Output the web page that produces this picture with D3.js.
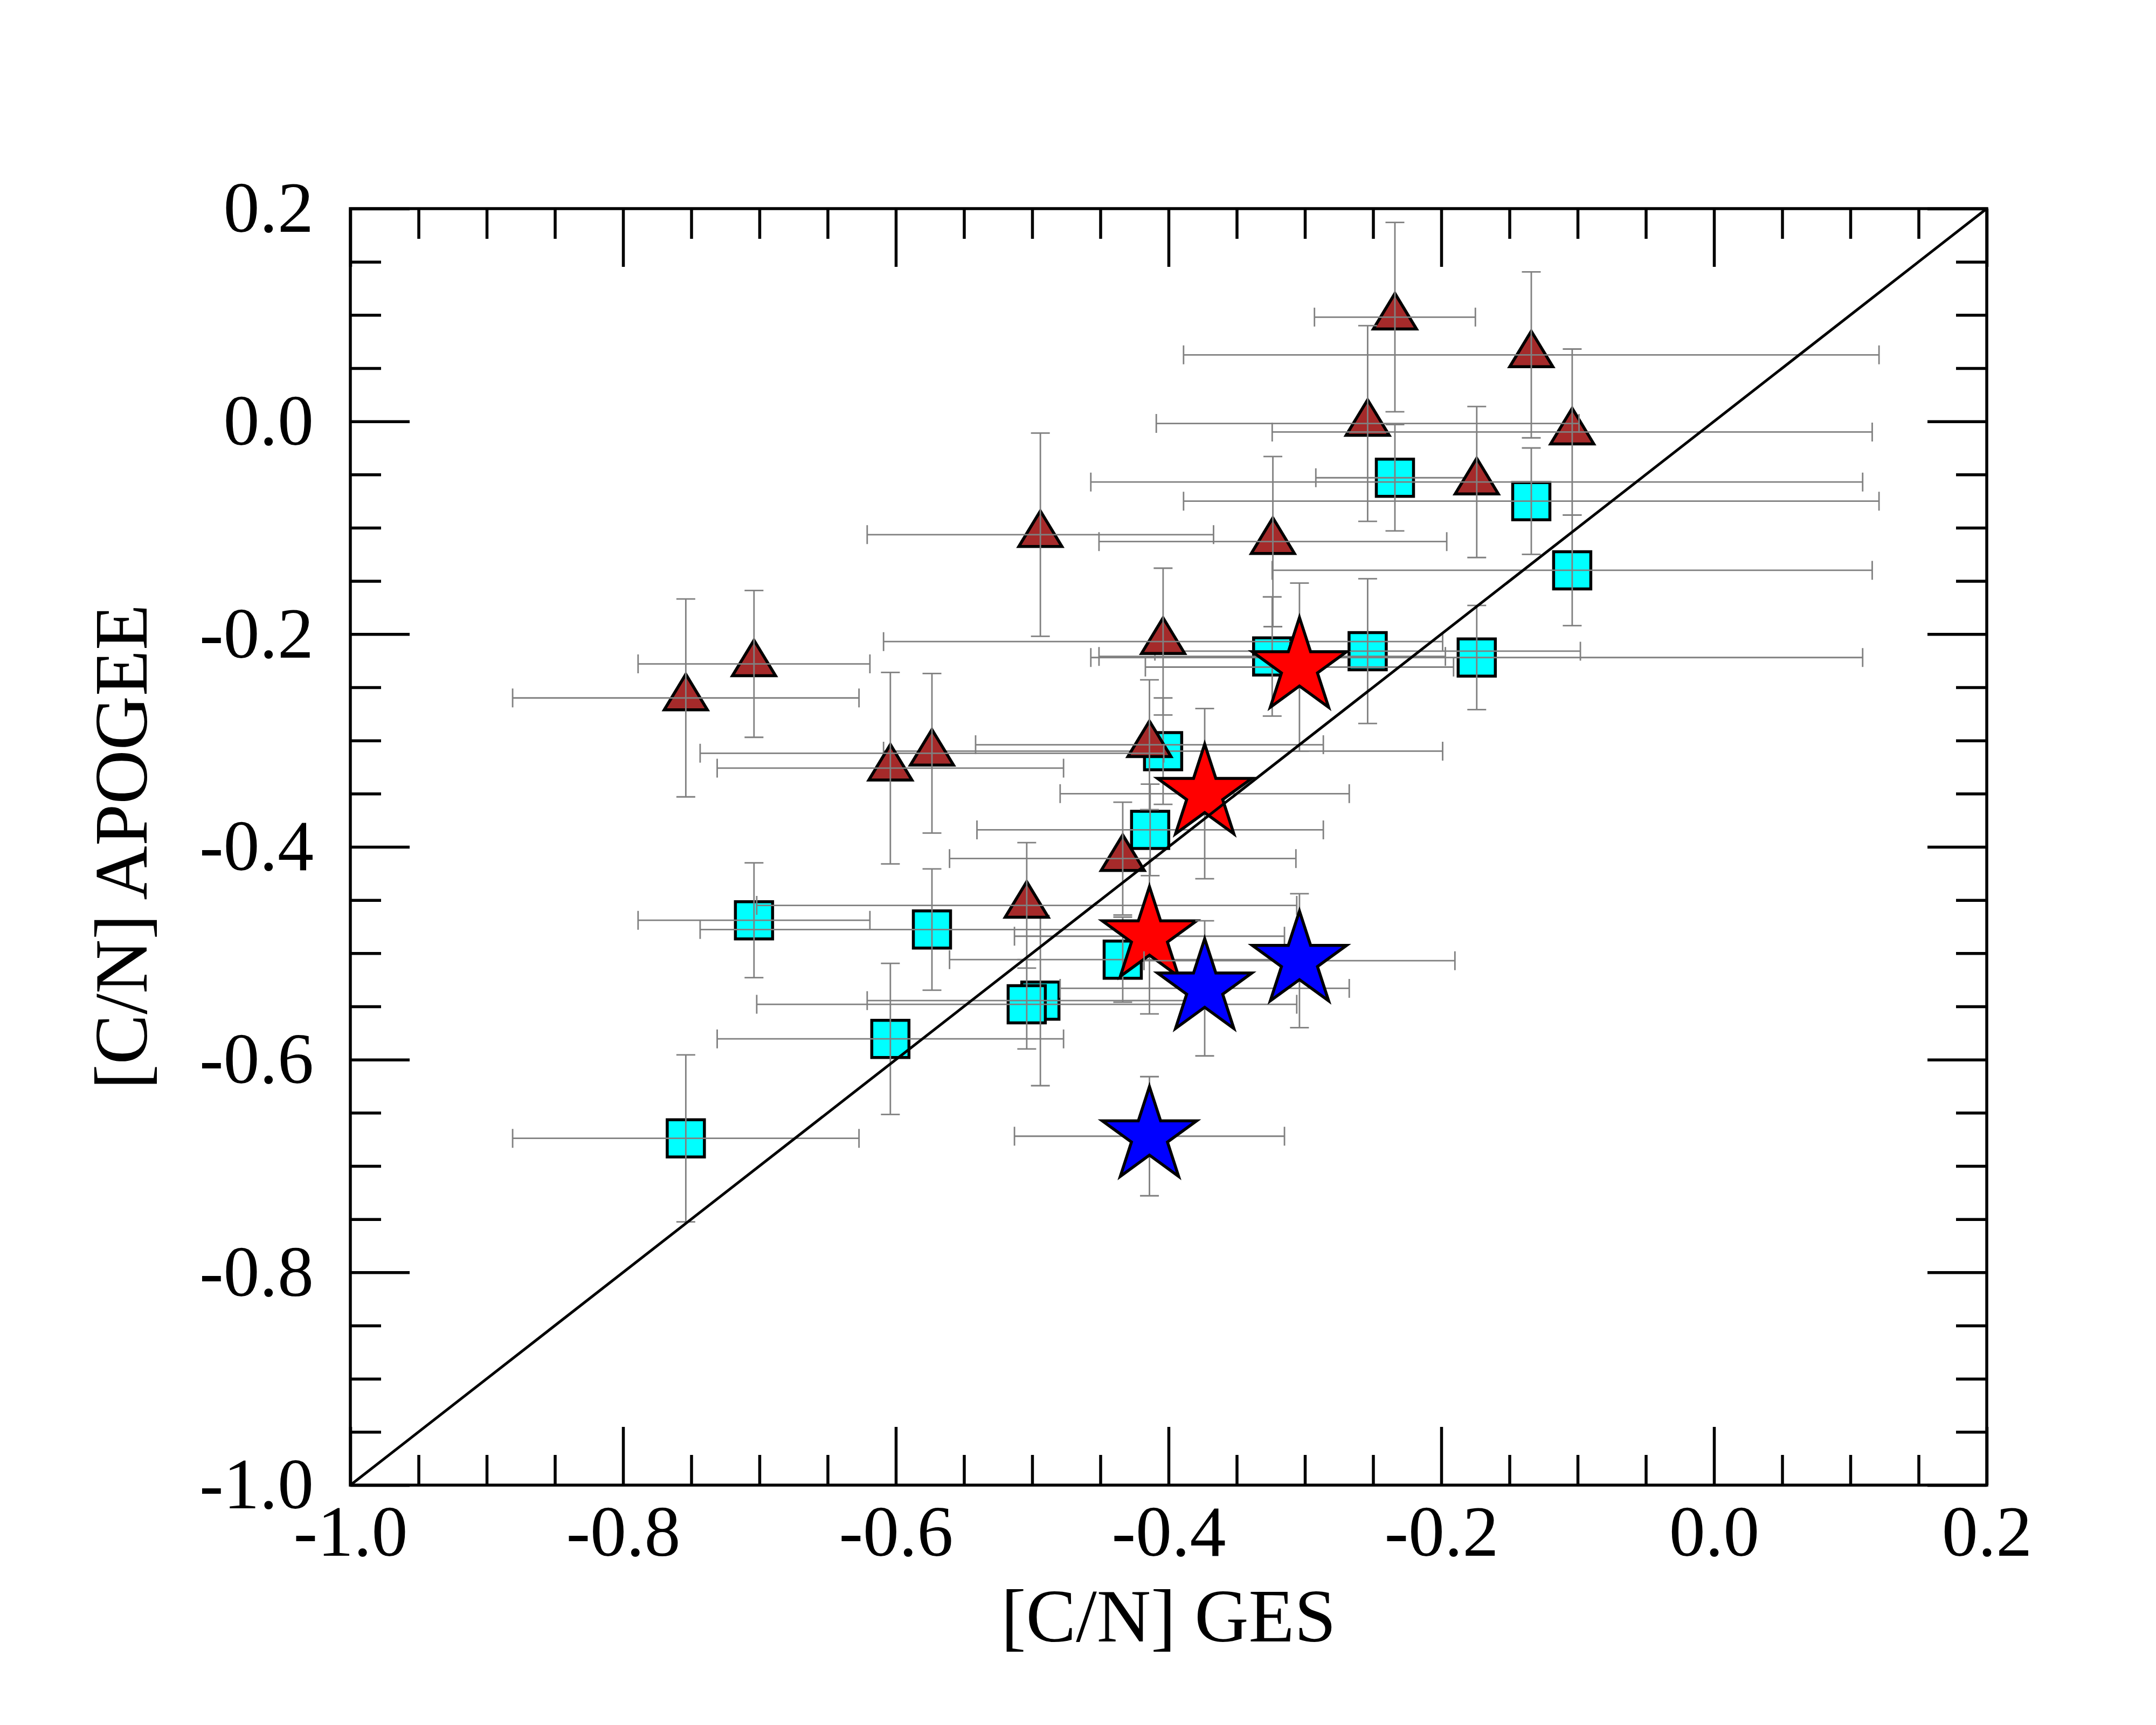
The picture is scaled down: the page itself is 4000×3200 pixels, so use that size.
<!DOCTYPE html>
<html>
<head>
<meta charset="utf-8">
<script src="https://cdn.jsdelivr.net/npm/d3@7"></script>
<style>
  body { margin: 0; background: #fff; }
</style>
</head>
<body>
<script>
// tick values and labels
var xTickValues = [-1.0, -0.8, -0.6, -0.4, -0.2, 0.0, 0.2];
var xTickLabels = ["-1.0", "-0.8", "-0.6", "-0.4", "-0.2", "0.0", "0.2"];
var yTickValues = [-1.0, -0.8, -0.6, -0.4, -0.2, 0.0, 0.2];
var yTickLabels = ["-1.0", "-0.8", "-0.6", "-0.4", "-0.2", "0.0", "0.2"];

// brown triangles
var triGes       = [-0.234, -0.134, -0.254, -0.104, -0.174, -0.494, -0.3235, -0.404, -0.754, -0.704, -0.414, -0.604, -0.5735, -0.4336, -0.504];
var triApogee    = [0.098, 0.0625, -0.002, -0.010, -0.057, -0.1065, -0.113, -0.207, -0.260, -0.228, -0.304, -0.326, -0.312, -0.411, -0.455];
var triGesErr    = [0.059, 0.255, 0.155, 0.22, 0.283, 0.127, 0.1275, 0.205, 0.127, 0.085, 0.1275, 0.127, 0.17, 0.127, 0.198];
var triApogeeErr = [0.089, 0.078, 0.092, 0.078, 0.071, 0.0955, 0.08, 0.069, 0.093, 0.069, 0.061, 0.09, 0.075, 0.053, 0.059];

// cyan squares
var sqGes       = [-0.234, -0.134, -0.104, -0.324, -0.254, -0.174, -0.404, -0.4135, -0.704, -0.5735, -0.4336, -0.494, -0.504, -0.604, -0.754];
var sqApogee    = [-0.053, -0.075, -0.140, -0.221, -0.216, -0.222, -0.310, -0.384, -0.469, -0.4777, -0.506, -0.5445, -0.548, -0.5805, -0.674];
var sqGesErr    = [0.058, 0.255, 0.22, 0.127, 0.156, 0.283, 0.205, 0.127, 0.085, 0.17, 0.127, 0.127, 0.198, 0.127, 0.127];
var sqApogeeErr = [0.05, 0.05, 0.052, 0.056, 0.068, 0.049, 0.05, 0.043, 0.054, 0.057, 0.04, 0.08, 0.042, 0.071, 0.0785];

// red stars
var redGes       = [-0.304, -0.3735, -0.414];
var redApogee    = [-0.231, -0.350, -0.484];
var redGesErr    = [0.113, 0.106, 0.099];
var redApogeeErr = [0.079, 0.08, 0.073];

// blue stars
var blueGes       = [-0.304, -0.3735, -0.414];
var blueApogee    = [-0.507, -0.533, -0.672];
var blueGesErr    = [0.114, 0.106, 0.099];
var blueApogeeErr = [0.063, 0.0635, 0.056];

var WIDTH = 4000, HEIGHT = 3200;
var LEFT = 650, RIGHT = 3686, TOP = 387, BOTTOM = 2755;
var FONT = "'Liberation Serif', 'Times New Roman', serif";

var translate = function (x, y) {
  return "translate(" + x + "," + y + ")";
};

var xScale = d3.scaleLinear().domain([-1.0, 0.2]).range([LEFT, RIGHT]);
var yScale = d3.scaleLinear().domain([-1.0, 0.2]).range([BOTTOM, TOP]);

var minorTicks = d3.range(-1.0, 0.2001, 0.05).filter(function (v) {
  return Math.abs(v * 5 - Math.round(v * 5)) > 1e-6;
});

var svg = d3.select("body").append("svg")
  .attr("width", WIDTH)
  .attr("height", HEIGHT);

svg.append("rect").attr("width", WIDTH).attr("height", HEIGHT).attr("fill", "#fff");

// marker shapes
var trianglePath = function () {
  return "M0,-44L40,22L-40,22Z";
};
var squarePath = function () {
  return "M-34.5,-34.5H34.5V34.5H-34.5Z";
};
var starPath = function () {
  var R = 92, r = R * 0.382, pts = [];
  for (var k = 0; k < 10; k++) {
    var a = -Math.PI / 2 + k * Math.PI / 5;
    var rad = k % 2 === 0 ? R : r;
    pts.push([rad * Math.cos(a), rad * Math.sin(a)]);
  }
  return "M" + pts.map(function (p) { return p[0].toFixed(2) + "," + p[1].toFixed(2); }).join("L") + "Z";
};

var rows = function (xs, ys, xe, ye) {
  return xs.map(function (v, i) { return {x: v, y: ys[i], xe: xe[i], ye: ye[i]}; });
};

var CAP = 17.5;
var drawErrors = function (g, data) {
  var eg = g.append("g")
    .attr("stroke", "#808080")
    .attr("stroke-width", 2.8)
    .attr("fill", "none");
  data.forEach(function (d) {
    var cx = xScale(d.x), cy = yScale(d.y);
    var x0 = xScale(d.x - d.xe), x1 = xScale(d.x + d.xe);
    var y0 = yScale(d.y - d.ye), y1 = yScale(d.y + d.ye);
    eg.append("path").attr("d",
      "M" + x0 + "," + cy + "H" + x1 +
      "M" + x0 + "," + (cy - CAP) + "V" + (cy + CAP) +
      "M" + x1 + "," + (cy - CAP) + "V" + (cy + CAP) +
      "M" + cx + "," + y0 + "V" + y1 +
      "M" + (cx - CAP) + "," + y0 + "H" + (cx + CAP) +
      "M" + (cx - CAP) + "," + y1 + "H" + (cx + CAP));
  });
};

var drawMarkers = function (g, data, shape, fill) {
  g.append("g").selectAll("path")
    .data(data)
    .enter()
    .append("path")
    .attr("d", shape())
    .attr("transform", function (d) { return translate(xScale(d.x), yScale(d.y)); })
    .attr("fill", fill)
    .attr("stroke", "#000")
    .attr("stroke-width", 5.5)
    .attr("stroke-linejoin", "miter");
};

var plot = svg.append("g");

// squares, then triangles, then stars
var sqData = rows(sqGes, sqApogee, sqGesErr, sqApogeeErr);
drawMarkers(plot, sqData, squarePath, "#00ffff");
drawErrors(plot, sqData);

var triData = rows(triGes, triApogee, triGesErr, triApogeeErr);
drawMarkers(plot, triData, trianglePath, "#a52a2a");
drawErrors(plot, triData);

var redData = rows(redGes, redApogee, redGesErr, redApogeeErr);
drawErrors(plot, redData);
drawMarkers(plot, redData, starPath, "#ff0000");

var blueData = rows(blueGes, blueApogee, blueGesErr, blueApogeeErr);
drawErrors(plot, blueData);
drawMarkers(plot, blueData, starPath, "#0000ff");

// one-to-one line
var line = d3.line()
  .x(function (d) { return xScale(d); })
  .y(function (d) { return yScale(d); });
svg.append("path")
  .attr("d", line([-1.0, 0.2]))
  .attr("stroke", "#000")
  .attr("stroke-width", 5)
  .attr("fill", "none");

// axes
var styleAxis = function (g, fontSize) {
  g.select(".domain").remove();
  g.selectAll("line").attr("stroke", "#000").attr("stroke-width", 5.5);
  g.attr("font-family", FONT).attr("font-size", fontSize);
  g.selectAll("text").attr("fill", "#000");
};

svg.append("g").attr("transform", translate(0, BOTTOM))
  .call(d3.axisBottom(xScale).tickValues(xTickValues)
    .tickFormat(function (d, i) { return xTickLabels[i]; })
    .tickSize(-108).tickSizeOuter(0).tickPadding(36))
  .call(styleAxis, 134);
svg.append("g").attr("transform", translate(0, BOTTOM))
  .call(d3.axisBottom(xScale).tickValues(minorTicks).tickFormat("").tickSize(-56).tickSizeOuter(0))
  .call(styleAxis, 134);

svg.append("g").attr("transform", translate(0, TOP))
  .call(d3.axisTop(xScale).tickValues(xTickValues).tickFormat("").tickSize(-108).tickSizeOuter(0))
  .call(styleAxis, 134);
svg.append("g").attr("transform", translate(0, TOP))
  .call(d3.axisTop(xScale).tickValues(minorTicks).tickFormat("").tickSize(-56).tickSizeOuter(0))
  .call(styleAxis, 134);

svg.append("g").attr("transform", translate(LEFT, 0))
  .call(d3.axisLeft(yScale).tickValues(yTickValues)
    .tickFormat(function (d, i) { return yTickLabels[i]; })
    .tickSize(-110).tickSizeOuter(0).tickPadding(68))
  .call(styleAxis, 134);
svg.append("g").attr("transform", translate(LEFT, 0))
  .call(d3.axisLeft(yScale).tickValues(minorTicks).tickFormat("").tickSize(-57).tickSizeOuter(0))
  .call(styleAxis, 134);

svg.append("g").attr("transform", translate(RIGHT, 0))
  .call(d3.axisRight(yScale).tickValues(yTickValues).tickFormat("").tickSize(-110).tickSizeOuter(0))
  .call(styleAxis, 134);
svg.append("g").attr("transform", translate(RIGHT, 0))
  .call(d3.axisRight(yScale).tickValues(minorTicks).tickFormat("").tickSize(-57).tickSizeOuter(0))
  .call(styleAxis, 134);

// frame
svg.append("rect")
  .attr("x", LEFT).attr("y", TOP)
  .attr("width", RIGHT - LEFT).attr("height", BOTTOM - TOP)
  .attr("fill", "none").attr("stroke", "#000").attr("stroke-width", 5.5);

// axis titles
svg.append("text")
  .attr("x", (LEFT + RIGHT) / 2)
  .attr("y", 3045)
  .attr("text-anchor", "middle")
  .attr("font-family", FONT)
  .attr("font-size", 139)
  .text("[C/N] GES");

svg.append("text")
  .attr("transform", translate(272, (TOP + BOTTOM) / 2) + " rotate(-90)")
  .attr("text-anchor", "middle")
  .attr("font-family", FONT)
  .attr("font-size", 139)
  .text("[C/N] APOGEE");
</script>
</body>
</html>
